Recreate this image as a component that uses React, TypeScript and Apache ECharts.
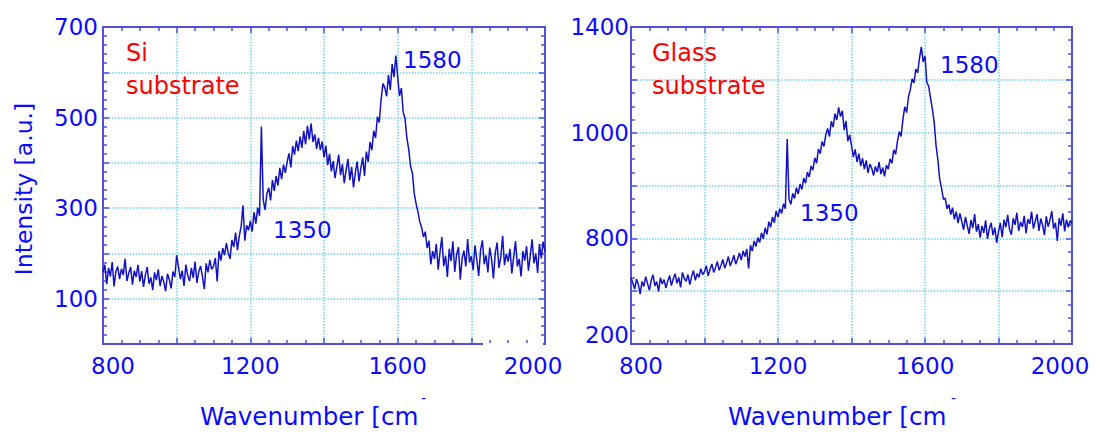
import { useEffect, useRef } from 'react';
import * as echarts from 'echarts';

// Raman spectra, sampled every 5 cm-1 from 800 to 2000
const wavenumberStart = 800;
const wavenumberStep = 5;

const siIntensity = [
  158, 175, 132, 168, 149, 181, 127, 160, 171, 143, 166, 152, 188, 139, 157, 170, 131, 162, 148, 175,
  138, 161, 126, 152, 170, 133, 147, 119, 158, 141, 165, 128, 150, 137, 116, 155, 142, 123, 160, 148,
  196, 170, 143, 162, 128, 175, 151, 139, 168, 146, 182, 135, 160, 172, 149, 121, 178, 158, 186, 165,
  172, 190, 138, 205, 184, 212, 196, 223, 201, 188, 230, 214, 246, 207, 238, 259, 306, 228, 262, 251,
  272, 248, 291, 266, 301, 283, 480, 318, 296, 332, 345, 317, 362, 338, 371, 350, 389, 364, 396, 378,
  402, 421, 390, 437, 418, 449, 426, 458, 433, 470, 441, 482, 452, 487, 446, 463, 431, 455, 428, 447,
  412, 438, 395, 420, 381, 404, 366, 392, 418, 373, 397, 355, 384, 409, 362, 391, 346, 378, 403, 359,
  388, 412, 371, 425, 402, 446, 428, 471, 455, 502, 489, 540, 575, 566, 547, 594, 561, 618, 589, 637,
  590, 548, 565, 512, 498, 455, 430, 392, 378, 332, 310, 292, 270, 258, 236, 248, 212, 228, 176, 205,
  188, 221, 164, 203, 236, 172, 195, 148, 210, 183, 227, 159, 198, 214, 142, 189, 206, 171, 232, 180,
  194, 163, 218, 185, 150, 207, 229, 176, 196, 158, 213, 187, 145, 201, 224, 168, 192, 239, 174, 199,
  182, 210, 156, 193, 227, 171, 188, 149, 205, 184, 216, 162, 195, 231, 178, 200, 157, 221, 189, 226,
  204,
];

const glassIntensity = [
  452, 431, 408, 446, 425, 389, 437, 418, 455, 429, 403, 441, 462, 420, 436, 398, 451, 427, 444, 412,
  438, 459, 421, 447, 466, 430, 452, 414, 471, 448, 437, 463, 425, 456, 478, 441, 467, 452, 485, 463,
  474, 496, 458, 482, 503, 471, 490, 512, 479, 498, 520, 487, 507, 531, 495, 514, 536, 502, 521, 545,
  518, 552, 531, 560, 486, 574, 552, 590, 569, 603, 584, 621, 598, 640, 615, 663, 642, 681, 659, 704,
  680, 712, 694, 731, 712, 976, 748, 729, 770, 751, 792, 768, 806, 785, 828, 809, 851, 832, 874, 858,
  905, 884, 938, 921, 967, 948, 992, 1016, 985, 1043, 1021, 1072, 1048, 1096, 1061, 1083, 1010, 1045, 968, 992,
  951, 908, 937, 889, 921, 874, 903, 862, 895, 848, 881, 866, 838, 872, 851, 889, 843, 868, 835, 877,
  862, 901, 884, 935, 918, 967, 1004, 986, 1052, 1098, 1076, 1135, 1163, 1204, 1188, 1241, 1226, 1282, 1325, 1268,
  1290, 1190, 1176, 1132, 1090, 1040, 952, 898, 824, 790, 748, 752, 712, 728, 690, 716, 672, 701, 658, 694,
  664, 632, 681, 648, 617, 670, 639, 692, 625, 654, 603, 647, 621, 668, 598, 637, 659, 612, 641, 583,
  626, 658, 604, 671, 642, 689, 633, 614, 676, 651, 697, 628, 662, 643, 685, 619, 672, 655, 701, 637,
  664, 691, 628, 675, 650, 612, 683, 644, 669, 703, 637, 659, 590, 676, 648, 695, 626, 671, 642, 667,
  655,
];

const xTickLabels = [800, 1200, 1600, 2000];
const siYTickLabels = [100, 300, 500, 700];
const glassYTickValues = [200, 600, 1000, 1400];
const glassYTickTexts = ['200', '800', '1000', '1400'];

const BLUE = '#0a0aff';
const AXIS = '#5050dc';
const GRID = '#6fd3ef';
const LINE = '#1212c4';
const FONT = 'DejaVu Sans';
const FS = 23;

function toPoints(vals: number[]) {
  return vals.map((v, i) => [wavenumberStart + i * wavenumberStep, v]);
}

export default function App() {
  const ref = useRef<HTMLDivElement>(null);
  useEffect(() => {
    if (!ref.current) return;
    const chart = echarts.init(ref.current, undefined, { renderer: 'svg' });

    const richBase = { fontFamily: FONT, fontSize: FS, color: BLUE };
    const xFormatter = (v: number) => {
      if (!xTickLabels.includes(v)) return '';
      if (v === 800) return '{l|800}';
      if (v === 2000) return '{r|2000}';
      return String(v);
    };
    const xRich = {
      l: { ...richBase, padding: [0, 0, 0, 20] },
      r: { ...richBase, padding: [0, 24, 0, 0] },
    };

    const baseX = (gridIndex: number, position: 'bottom' | 'top') => ({
      type: 'value' as const,
      gridIndex,
      position,
      min: 800,
      max: 2000,
      interval: 200,
      axisLine: { show: true, onZero: false, lineStyle: { color: AXIS, width: 2 } },
      axisTick: { show: true, inside: true, length: 6, lineStyle: { color: AXIS, width: 1.5 } },
      minorTick: { show: true, splitNumber: 4, length: 4, lineStyle: { color: AXIS, width: 1.5 } },
      splitLine: { show: position === 'bottom', lineStyle: { color: GRID, type: 'dotted' as const, width: 1.5 } },
      axisLabel: {
        show: position === 'bottom',
        formatter: xFormatter,
        rich: xRich,
        color: BLUE,
        fontFamily: FONT,
        fontSize: FS,
        margin: 10,
        showMinLabel: true,
        showMaxLabel: true,
      },
    });

    const baseY = (
      gridIndex: number,
      position: 'left' | 'right',
      min: number,
      max: number,
      interval: number,
      minorSplit: number,
      formatter: (v: number) => string,
      margin: number
    ) => ({
      type: 'value' as const,
      gridIndex,
      position,
      min,
      max,
      interval,
      axisLine: { show: true, onZero: false, lineStyle: { color: AXIS, width: 2 } },
      axisTick: { show: true, inside: true, length: 6, lineStyle: { color: AXIS, width: 1.5 } },
      minorTick: { show: true, splitNumber: minorSplit, length: 4, lineStyle: { color: AXIS, width: 1.5 } },
      splitLine: { show: position === 'left', lineStyle: { color: GRID, type: 'dotted' as const, width: 1.5 } },
      axisLabel: {
        show: position === 'left',
        formatter,
        color: BLUE,
        fontFamily: FONT,
        fontSize: FS,
        margin,
        showMinLabel: true,
        showMaxLabel: true,
        rich: { lo: { ...richBase, padding: [0, 0, 18, 0] } },
      },
    });

    const siYFormatter = (v: number) => (siYTickLabels.includes(v) ? String(v) : '');
    const glassYFormatter = (v: number) => {
      const i = glassYTickValues.indexOf(v);
      if (i < 0) return '';
      if (v === 200) return '{lo|' + glassYTickTexts[i] + '}';
      return glassYTickTexts[i];
    };

    const txt = (text: string, x: number, y: number, color: string, align = 'left', fontSize = FS) => ({
      type: 'text',
      x,
      y,
      z: 100,
      style: {
        text,
        fill: color,
        fontFamily: FONT,
        fontSize,
        textAlign: align,
        textVerticalAlign: 'middle',
      },
    });

    const option = {
      animation: false,
      backgroundColor: '#ffffff',
      grid: [
        { left: 103, top: 27, width: 442, height: 317, containLabel: false },
        { left: 631, top: 27, width: 441, height: 317, containLabel: false },
      ],
      xAxis: [baseX(0, 'bottom'), baseX(0, 'top'), baseX(1, 'bottom'), baseX(1, 'top')],
      yAxis: [
        baseY(0, 'left', 0, 700, 100, 5, siYFormatter, 5),
        baseY(0, 'right', 0, 700, 100, 5, siYFormatter, 5),
        baseY(1, 'left', 200, 1400, 200, 4, glassYFormatter, 2),
        baseY(1, 'right', 200, 1400, 200, 4, glassYFormatter, 2),
      ],
      series: [
        {
          type: 'line',
          xAxisIndex: 0,
          yAxisIndex: 0,
          data: toPoints(siIntensity),
          showSymbol: false,
          lineStyle: { color: LINE, width: 1.5 },
          z: 5,
        },
        {
          type: 'line',
          xAxisIndex: 2,
          yAxisIndex: 2,
          data: toPoints(glassIntensity),
          showSymbol: false,
          lineStyle: { color: LINE, width: 1.5 },
          z: 5,
        },
      ],
      graphic: [
        {
          type: 'text',
          x: 24,
          y: 189,
          rotation: Math.PI / 2,
          z: 100,
          style: {
            text: 'Intensity [a.u.]',
            fill: BLUE,
            fontFamily: FONT,
            fontSize: 23.5,
            textAlign: 'center',
            textVerticalAlign: 'middle',
          },
        },
        txt('Wavenumber [cm', 200, 416, BLUE, 'left', 24.6),
        txt('-', 421, 398, BLUE, 'left', 14),
        txt('Wavenumber [cm', 728, 416, BLUE, 'left', 24.6),
        txt('-', 951, 398, BLUE, 'left', 14),
        txt('Si', 126, 53, '#ff0000', 'left', 24),
        txt('substrate', 126, 86, '#ff0000', 'left', 24),
        txt('Glass', 652, 53, '#ff0000', 'left', 24),
        txt('substrate', 652, 86, '#ff0000', 'left', 24),
        txt('1580', 403, 60, BLUE),
        txt('1350', 273, 230, BLUE),
        txt('1580', 940, 65, BLUE),
        txt('1350', 800, 213, BLUE),
        {
          type: 'rect',
          z: 120,
          shape: { x: 483, y: 343, width: 60, height: 3 },
          style: { fill: '#ffffff' },
        },
      ],
    };

    chart.setOption(option as any);
    return () => chart.dispose();
  }, []);

  return (
    <div
      ref={ref}
      style={{ position: 'fixed', left: 0, top: 0, width: 1100, height: 436, background: '#fff' }}
    />
  );
}
